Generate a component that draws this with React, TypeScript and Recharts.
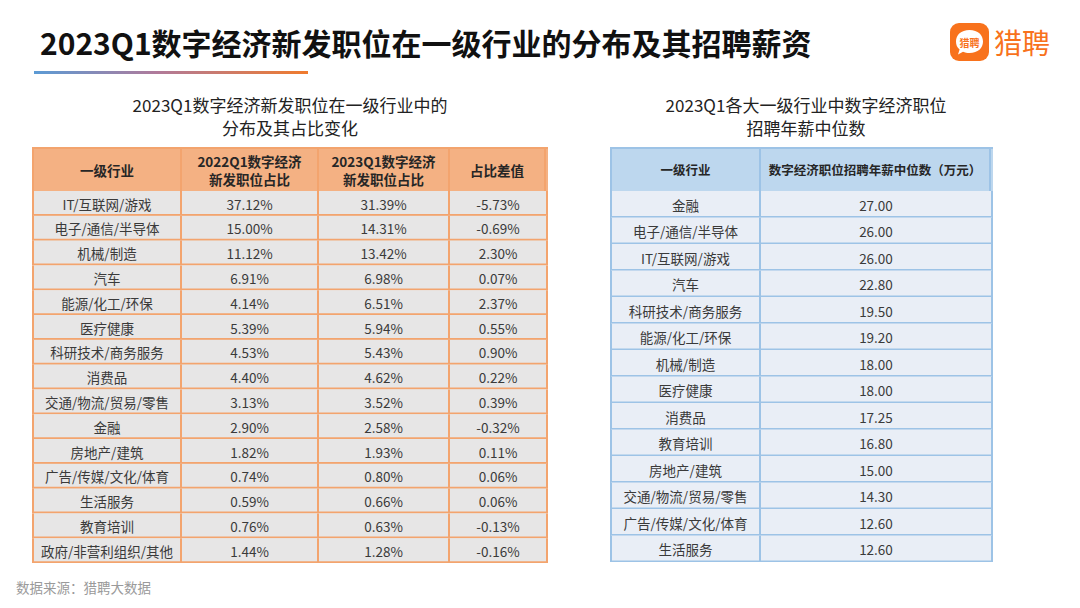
import { BarChart, Bar, XAxis, YAxis } from 'recharts';

// left table: share of new digital-economy jobs by industry
const industries = [
  'IT/互联网/游戏', '电子/通信/半导体', '机械/制造', '汽车', '能源/化工/环保',
  '医疗健康', '科研技术/商务服务', '消费品', '交通/物流/贸易/零售', '金融',
  '房地产/建筑', '广告/传媒/文化/体育', '生活服务', '教育培训', '政府/非营利组织/其他',
];
const share2022 = ['37.12%', '15.00%', '11.12%', '6.91%', '4.14%', '5.39%', '4.53%', '4.40%', '3.13%', '2.90%', '1.82%', '0.74%', '0.59%', '0.76%', '1.44%'];
const share2023 = ['31.39%', '14.31%', '13.42%', '6.98%', '6.51%', '5.94%', '5.43%', '4.62%', '3.52%', '2.58%', '1.93%', '0.80%', '0.66%', '0.63%', '1.28%'];
const shareDiff = ['-5.73%', '-0.69%', '2.30%', '0.07%', '2.37%', '0.55%', '0.90%', '0.22%', '0.39%', '-0.32%', '0.11%', '0.06%', '0.06%', '-0.13%', '-0.16%'];
const leftHeaders = ['一级行业', '2022Q1数字经济\n新发职位占比', '2023Q1数字经济\n新发职位占比', '占比差值'];

// right table: median annual salary (10k yuan)
const salaryIndustries = [
  '金融', '电子/通信/半导体', 'IT/互联网/游戏', '汽车', '科研技术/商务服务',
  '能源/化工/环保', '机械/制造', '医疗健康', '消费品', '教育培训',
  '房地产/建筑', '交通/物流/贸易/零售', '广告/传媒/文化/体育', '生活服务',
];
const salaryMedian = ['27.00', '26.00', '26.00', '22.80', '19.50', '19.20', '18.00', '18.00', '17.25', '16.80', '15.00', '14.30', '12.60', '12.60'];
const rightHeaders = ['一级行业', '数字经济职位招聘年薪中位数（万元）'];

const leftRows = industries.map((name, i) => ({
  name,
  cells: [name, share2022[i], share2023[i], shareDiff[i]],
}));
const rightRows = salaryIndustries.map((name, i) => ({
  name,
  cells: [name, salaryMedian[i]],
}));

const FONT = '"Noto Sans CJK SC", "Noto Sans", sans-serif';

const makeRowShape = (colWidths: number[], fill: string, line: string) => (props: any) => {
  const { x, y, width, height, payload } = props;
  const total = colWidths.reduce((a, b) => a + b, 0);
  const edges = [0];
  colWidths.forEach((w) => edges.push(edges[edges.length - 1] + (w / total) * width));
  return (
    <g>
      <rect x={x} y={y} width={width} height={height} fill={fill} />
      <line x1={x} x2={x + width} y1={y + height - 1} y2={y + height - 1} stroke={line} strokeWidth={2} />
      {edges.map((e, i) => (
        <line key={i} x1={x + e} x2={x + e} y1={y} y2={y + height} stroke={line} strokeWidth={2} />
      ))}
      {payload.cells.map((c: string, i: number) => (
        <text
          key={i}
          x={x + (edges[i] + edges[i + 1]) / 2}
          y={y + height / 2}
          textAnchor="middle"
          dominantBaseline="central"
          fontSize={13.5}
          fontFamily={FONT}
          fill="#3a3a3a"
        >
          {c}
        </text>
      ))}
    </g>
  );
};

const Header = ({ labels, colWidths, fill, line, width, fontSize = 13.5 }: any) => {
  const total = colWidths.reduce((a: number, b: number) => a + b, 0);
  return (
    <div style={{ display: 'flex', width, height: 44, background: fill, borderTop: `2px solid ${line}`, boxSizing: 'border-box' }}>
      {labels.map((l: string, i: number) => (
        <div
          key={i}
          style={{
            width: ((colWidths[i] / total) * (width - 2)),
            flex: 'none',
            display: 'flex',
            alignItems: 'center',
            justifyContent: 'center',
            textAlign: 'center',
            whiteSpace: 'pre-line',
            fontWeight: 700,
            fontSize,
            lineHeight: '18px',
            color: '#262626',
            borderLeft: `2px solid ${line}`,
            borderRight: i === labels.length - 1 ? `2px solid ${line}` : 'none',
            boxSizing: 'border-box',
          }}
        >
          {l}
        </div>
      ))}
    </div>
  );
};

const leftCols = [148, 137, 131, 98];
const rightCols = [149, 232];

export default function App() {
  return (
    <div style={{ position: 'absolute', left: 0, top: 0, width: 1080, height: 608, background: '#fff', fontFamily: FONT, overflow: 'hidden' }}>
      <div style={{ position: 'absolute', left: 40, top: 20, fontSize: 30, fontWeight: 700, color: '#111', lineHeight: '44px', whiteSpace: 'nowrap' }}>
        2023Q1数字经济新发职位在一级行业的分布及其招聘薪资
      </div>
      <div style={{ position: 'absolute', left: 34, top: 71, width: 274, height: 3, background: 'linear-gradient(to right, #5B9BD5, #B07A9A 45%, #F07B2D)' }} />

      {/* logo */}
      <div style={{ position: 'absolute', left: 950, top: 23, width: 39, height: 38, borderRadius: 9, background: '#F8721C' }}>
        <svg width={39} height={38}>
          <path d="M19.5 7 C28 7 33 12 33 18.5 C33 25 28 30 19.5 30 C17 30 15 29.6 13 28.8 L8 31.5 L9.6 26.5 C7 24.5 6 21.8 6 18.5 C6 12 11 7 19.5 7 Z" fill="#fff" />
          <text x={19.5} y={19} textAnchor="middle" dominantBaseline="central" fontSize={10} fontWeight={700} fill="#F8721C" fontFamily={FONT}>猎聘</text>
        </svg>
      </div>
      <div style={{ position: 'absolute', left: 994, top: 22, fontSize: 28, color: '#F8721C', lineHeight: '40px', letterSpacing: 0 }}>猎聘</div>

      {/* subtitles */}
      <div style={{ position: 'absolute', left: 90, width: 400, top: 93, textAlign: 'center', fontSize: 17, lineHeight: '23px', color: '#222' }}>
        2023Q1数字经济新发职位在一级行业中的<br />分布及其占比变化
      </div>
      <div style={{ position: 'absolute', left: 606, width: 400, top: 93, textAlign: 'center', fontSize: 17, lineHeight: '23px', color: '#222' }}>
        2023Q1各大一级行业中数字经济职位<br />招聘年薪中位数
      </div>

      {/* left table */}
      <div style={{ position: 'absolute', left: 32, top: 147 }}>
        <Header labels={leftHeaders} colWidths={leftCols} fill="#F4B183" line="#F3A46E" width={516} />
        <BarChart width={516} height={372} data={leftRows} layout="vertical" barCategoryGap={0} margin={{ top: 0, right: 1, left: 1, bottom: 0 }}>
          <XAxis type="number" domain={[0, 1]} hide />
          <YAxis type="category" dataKey="name" hide />
          <Bar dataKey={() => 1} isAnimationActive={false} shape={makeRowShape(leftCols, '#E7E6E6', '#F3A46E')} />
        </BarChart>
      </div>

      {/* right table */}
      <div style={{ position: 'absolute', left: 610, top: 147 }}>
        <Header labels={rightHeaders} colWidths={rightCols} fill="#BDD7EE" line="#9DC3E6" width={383} fontSize={12.5} />
        <BarChart width={383} height={371} data={rightRows} layout="vertical" barCategoryGap={0} margin={{ top: 0, right: 1, left: 1, bottom: 0 }}>
          <XAxis type="number" domain={[0, 1]} hide />
          <YAxis type="category" dataKey="name" hide />
          <Bar dataKey={() => 1} isAnimationActive={false} shape={makeRowShape(rightCols, '#E9EEF6', '#9DC3E6')} />
        </BarChart>
      </div>

      <div style={{ position: 'absolute', left: 16, top: 578, fontSize: 13.5, color: '#9a9a9a', lineHeight: '18px' }}>
        数据来源：猎聘大数据
      </div>
    </div>
  );
}
